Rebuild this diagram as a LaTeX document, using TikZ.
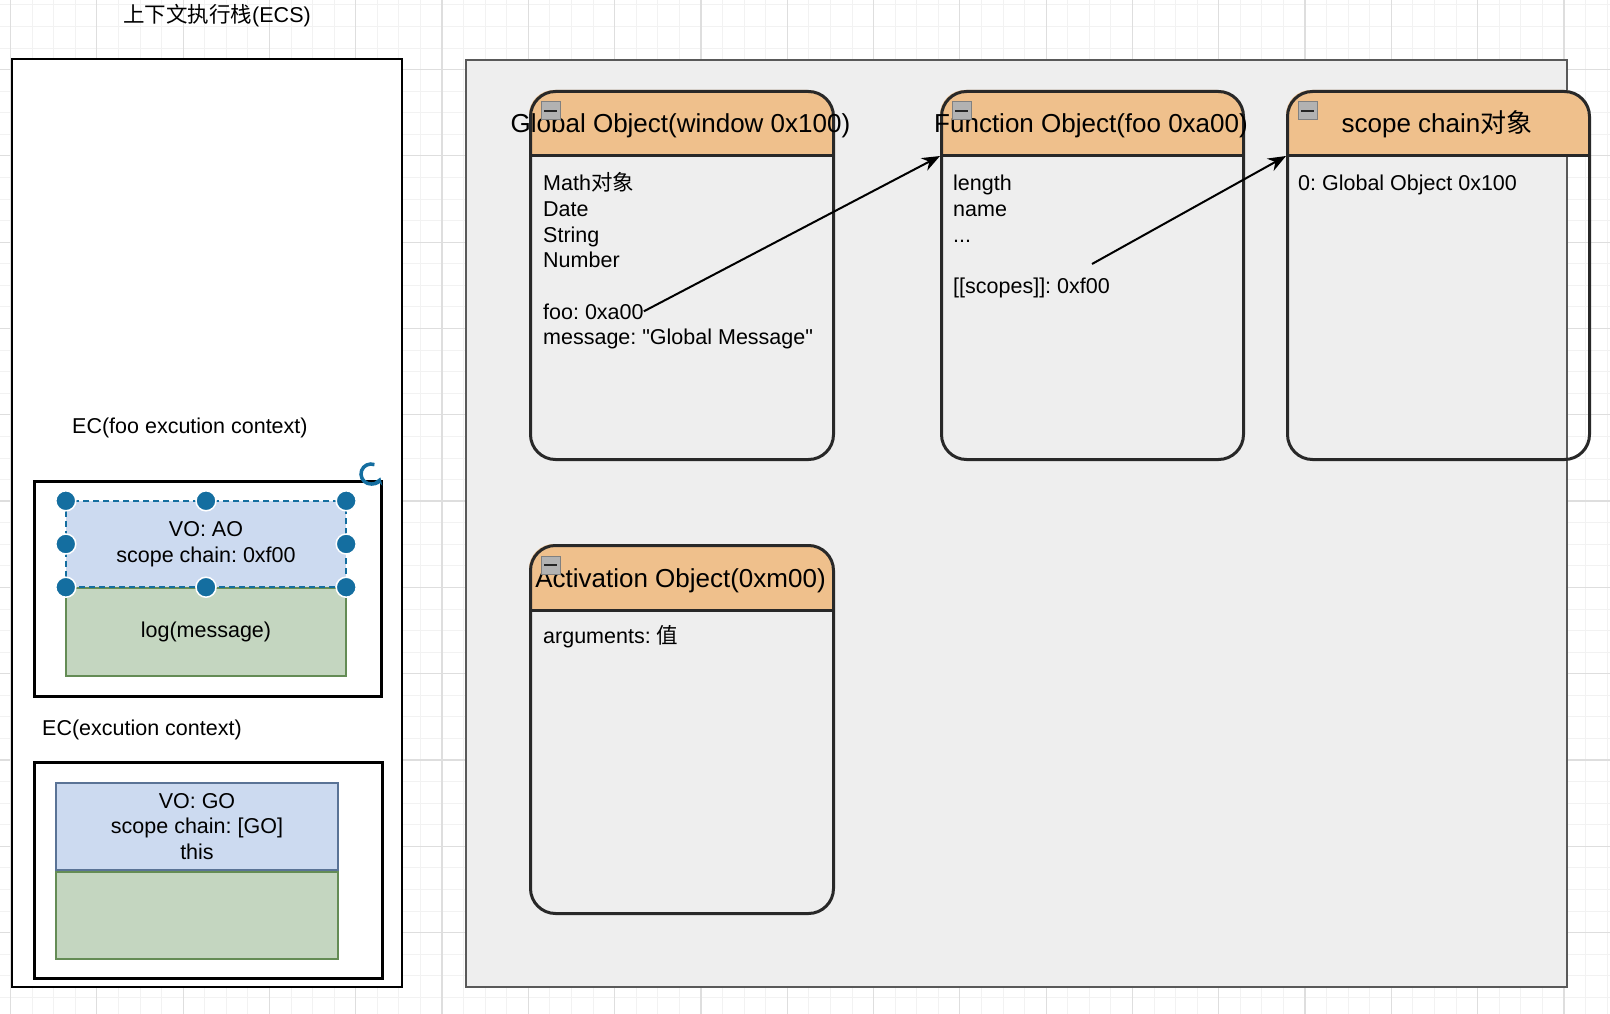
\documentclass[tikz,border=0pt]{standalone}
\usepackage{fontspec}
\setmainfont{Liberation Sans}
\newfontfamily\cjk{Noto Sans CJK SC}
\newfontfamily\plainsans{Liberation Sans}[Ligatures=Common]
\usetikzlibrary{arrows.meta, positioning}
\newcommand{\zh}[1]{{\cjk #1}}
\newcommand{\dq}{{\plainsans\char34}}
\frenchspacing

\definecolor{headorange}{RGB}{239,192,140}
\definecolor{panelgray}{RGB}{238,238,238}
\definecolor{objline}{RGB}{40,40,40}
\definecolor{voblue}{RGB}{204,218,240}
\definecolor{voline}{RGB}{90,115,150}
\definecolor{scgreen}{RGB}{196,214,192}
\definecolor{scline}{RGB}{100,140,85}
\definecolor{handleblue}{RGB}{20,110,160}

\tikzset{
    txt/.style={font=\fontsize{21.5}{25.6}\selectfont, inner sep=0pt},
    headtxt/.style={font=\fontsize{26}{30}\selectfont, inner sep=0pt, anchor=base},
    objframe/.style={draw=objline, line width=3pt, rounded corners=25pt, minimum height=368pt, inner sep=0pt, anchor=north west},
    ecbox/.style={draw=black, line width=2.5pt, fill=white, inner sep=0pt, anchor=north west},
    vobox/.style={txt, fill=voblue, align=center},
    scbox/.style={txt, fill=scgreen, draw=scline, line width=2pt, align=center},
    ptr/.style={line width=2pt, -{Stealth[length=18pt, width=14pt]}},
    handle/.style={fill=handleblue, draw=white, line width=1.5pt},
    minorgrid/.style={black!5, line width=0.8pt},
    majorgrid/.style={black!13, line width=1.2pt}
}

\begin{document}
\begin{tikzpicture}[x=1pt, y=-1pt]
    \useasboundingbox (0,0) rectangle (1610,1014);

    % Draw background grid
    \fill[white] (0,0) rectangle (1610,1014);
    \draw[minorgrid, step=21.575pt, shift={(10.5,-16.75)}] (-40,1050) grid (1650,-40);
    \draw[majorgrid, step=86.3pt, shift={(10.5,-16.75)}] (-40,1050) grid (1650,-40);

    % Execution context stack
    \draw[black, line width=2.5pt, fill=white] (12,59) rectangle (402,987);
    \node[txt, anchor=base] (ecstitle) at (217,23) {\zh{上下文执行栈}(ECS)};

    % Heap panel
    \draw[fill=panelgray, draw=black!65, line width=2pt] (466,60) rectangle (1567,987);

    % Object boxes: header, frame, title and collapse icon
    \foreach \n/\x/\y/\w/\t in {gobj/529/90/303/Global Object(window 0x100),
                                fobj/940/90/302/Function Object(foo 0xa00),
                                sobj/1286/90/302/scope chain\zh{对象},
                                aobj/529/544/303/Activation Object(0xm00)} {
        \begin{scope}
            \clip (\x,\y) rectangle (\x+\w,\y+66);
            \fill[headorange, rounded corners=25pt] (\x,\y) rectangle (\x+\w,\y+140);
        \end{scope}
        \draw[objline, line width=3pt] (\x,\y+66) -- (\x+\w,\y+66);
        \node[objframe, minimum width=\w pt] (\n) at (\x,\y) {};
        \coordinate (\n-hook) at (\x,\y+66);
        \node[headtxt] (\n-title) at (\x+\w/2,\y+43) {\t};
        \filldraw[fill=black!30, draw=black!50, line width=1pt] (\x+12,\y+12) rectangle ++(19,18);
        \draw[black!85, line width=2.5pt] (\x+15,\y+21) -- ++(13,0);
    }

    % Global object members
    \foreach \i/\t in {1/Math\zh{对象}, 2/Date, 3/String, 4/Number, 6/foo: 0xa00, 7/message: \dq Global Message\dq} {
        \node[txt, anchor=base west] (gobj-\i) at (543,165.4+25.6*\i) {\t};
    }

    % Function object members
    \foreach \i/\t in {1/length, 2/name, 3/.{}.{}., 5/[[scopes]]: 0xf00} {
        \node[txt, anchor=base west] (fobj-\i) at (953,165.4+25.6*\i) {\t};
    }

    \node[txt, anchor=base west] (sobj-1) at (1298,191) {0: Global Object 0x100};
    \node[txt, anchor=base west] (aobj-1) at (543,643) {arguments: \zh{值}};

    % Pointers
    \draw[ptr] (gobj-6.east) -- (fobj-hook);
    \coordinate (fobj-tail) at (1092,264);
    \draw[ptr] (fobj-tail) -- (sobj-hook);

    % foo execution context
    \node[txt, anchor=base west] (foolabel) at (72,433) {EC(foo excution context)};
    \node[ecbox, minimum width=347pt, minimum height=215pt] (fooec) at (33,480) {};
    \node[vobox, minimum width=280pt, minimum height=86pt] (aovo) at (206,544) {VO: AO\\scope chain: 0xf00};
    \node[scbox, minimum width=280pt, minimum height=88pt, anchor=north] (aosc) at (aovo.south) {log(message)};

    % Selection handles
    \draw[handleblue, line width=1.5pt, dash pattern=on 6pt off 4pt] (aovo.north west) rectangle (aovo.south east);
    \foreach \a in {north west, north, north east, west, east, south west, south, south east} {
        \filldraw[handle] (aovo.\a) circle (10pt);
    }
    \draw[handleblue, line width=3.5pt, -{Stealth[length=7pt, width=9pt]}] ([shift={(70:10pt)}]371,474) arc[start angle=70, end angle=340, radius=10pt];

    % Global execution context
    \node[txt, anchor=base west] (globlabel) at (42,735) {EC(excution context)};
    \node[ecbox, minimum width=348pt, minimum height=216pt] (globec) at (33,761) {};
    \node[vobox, draw=voline, line width=2pt, minimum width=282pt, minimum height=87pt, anchor=north west] (govo) at (55,782) {VO: GO\\scope chain: [GO]\\this};
    \node[scbox, minimum width=282pt, minimum height=87pt, anchor=north] (gosc) at (govo.south) {};
\end{tikzpicture}
\end{document}
